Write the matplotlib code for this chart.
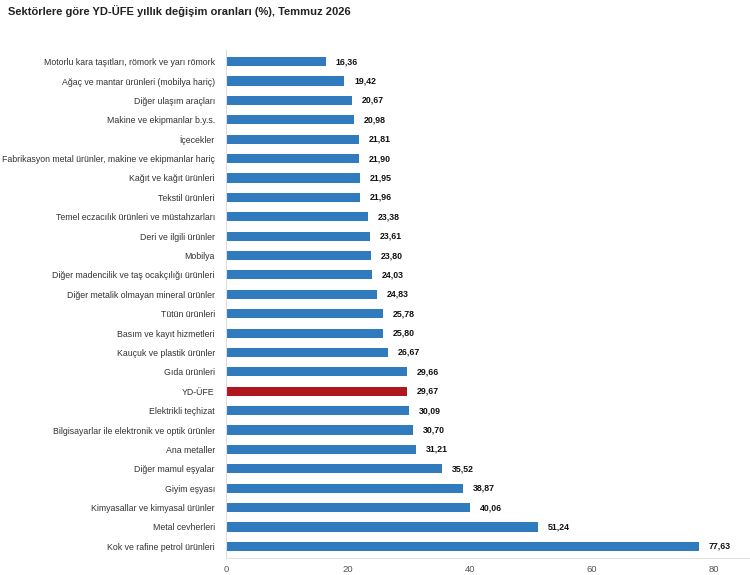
import matplotlib
matplotlib.use("Agg")
import matplotlib.pyplot as plt
import numpy as np

# sector labels, top to bottom
sectors = [
    "Motorlu kara taşıtları, römork ve yarı römork",
    "Ağaç ve mantar ürünleri (mobilya hariç)",
    "Diğer ulaşım araçları",
    "Makine ve ekipmanlar b.y.s.",
    "İçecekler",
    "Fabrikasyon metal ürünler, makine ve ekipmanlar hariç",
    "Kağıt ve kağıt ürünleri",
    "Tekstil ürünleri",
    "Temel eczacılık ürünleri ve müstahzarları",
    "Deri ve ilgili ürünler",
    "Mobilya",
    "Diğer madencilik ve taş ocakçılığı ürünleri",
    "Diğer metalik olmayan mineral ürünler",
    "Tütün ürünleri",
    "Basım ve kayıt hizmetleri",
    "Kauçuk ve plastik ürünler",
    "Gıda ürünleri",
    "YD-ÜFE",
    "Elektrikli teçhizat",
    "Bilgisayarlar ile elektronik ve optik ürünler",
    "Ana metaller",
    "Diğer mamul eşyalar",
    "Giyim eşyası",
    "Kimyasallar ve kimyasal ürünler",
    "Metal cevherleri",
    "Kok ve rafine petrol ürünleri",
]
rates = [16.36, 19.42, 20.67, 20.98, 21.81, 21.90, 21.95, 21.96, 23.38, 23.61,
         23.80, 24.03, 24.83, 25.78, 25.80, 26.67, 29.66, 29.67, 30.09, 30.70,
         31.21, 35.52, 38.87, 40.06, 51.24, 77.63]
x_ticks = [0, 20, 40, 60, 80]
highlight = "YD-ÜFE"

plt.rcParams['font.family'] = ['Liberation Sans', 'DejaVu Sans']

fig = plt.figure(figsize=(7.5, 5.75), dpi=100)
ax = fig.add_axes([0.3013, 0.0296, 0.6987, 0.8834])

y = np.arange(len(sectors))
colors = ["#B0161D" if s == highlight else "#2F7BBE" for s in sectors]
ax.barh(y, rates, height=0.47, color=colors)
ax.set_ylim(len(sectors) - 0.4, -0.6)
ax.set_xlim(0, 86)

ax.set_yticks(y)
ax.set_yticklabels(sectors, fontsize=6.3, color="#333333")
ax.set_xticks(x_ticks)
ax.set_xticklabels([str(t) for t in x_ticks], fontsize=6.8, color="#555555")
ax.tick_params(axis="both", length=0)
ax.tick_params(axis="y", pad=8)
ax.tick_params(axis="x", pad=5)

for yi, v in zip(y, rates):
    ax.annotate(f"{v:.2f}".replace(".", ","), (v, yi), xytext=(7, 0),
                textcoords="offset points", va="center", ha="left",
                fontsize=6.3, fontweight="bold", color="#111111")

for side in ["top", "right"]:
    ax.spines[side].set_visible(False)
ax.spines["left"].set_color("#dddddd")
ax.spines["bottom"].set_color("#e3e3e3")
ax.spines["left"].set_linewidth(0.8)
ax.spines["bottom"].set_linewidth(0.8)

fig.text(0.011, 0.991, "Sektörlere göre YD-ÜFE yıllık değişim oranları (%), Temmuz 2026",
         fontsize=8.0, fontweight="bold", color="#222222", va="top", ha="left")

fig.savefig("out.png", dpi=100)
